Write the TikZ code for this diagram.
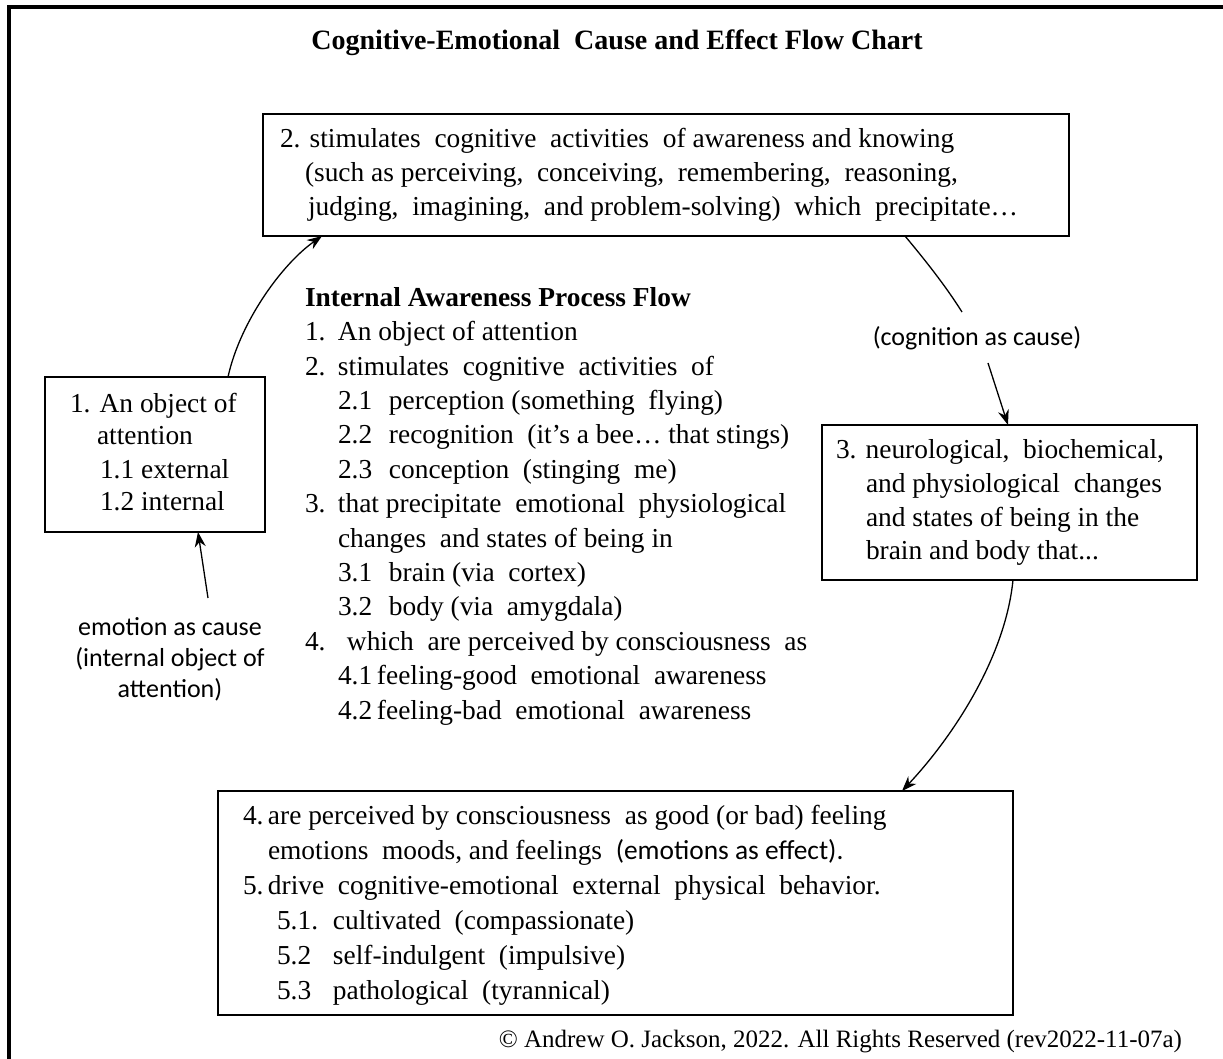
\documentclass[tikz,border=0pt]{standalone}
\usepackage{fontspec}
\setmainfont{Liberation Serif}
\newfontfamily\labelfont{Carlito}
\usetikzlibrary{arrows.meta,calc}
\begin{document}
\begin{tikzpicture}[x=0.5pt,y=-0.5pt,
  every node/.style={inner sep=0pt, outer sep=0pt},
  box/.style={draw, line width=0.9pt},
  body/.style={font=\fontsize{13.7}{17}\selectfont, align=left, anchor=base west},
  sans/.style={font=\labelfont\fontsize{13}{15.5}\selectfont, align=center},
  arr/.style={line width=0.65pt, -{Stealth[length=7.5pt,width=5.5pt]}},
  link/.style={line width=0.65pt},
  frame/.style={line width=2pt}]

\useasboundingbox (0,0) rectangle (1223,1059);

% outer frame (top and left edges)
\draw[frame] (8.7,1059) -- (8.7,6.7) -- (1223,6.7);

% title
\node[font=\bfseries\fontsize{14}{17}\selectfont, anchor=base] (title) at (617,50)
  {Cognitive-Emotional\ \ Cause and Effect Flow Chart};

% boxes
\node[box, minimum width=403pt, minimum height=61pt] (b2) at (666,175) {};
\node[box, minimum width=110pt, minimum height=77.5pt] (b1) at (155,454.5) {};
\node[box, minimum width=187.5pt, minimum height=77.5pt] (b3) at (1009.5,502.5) {};
\node[box, minimum width=397.5pt, minimum height=112pt] (b4) at (615.5,903) {};

% box texts (each node is placed at the baseline of its last line)
\node[body] (t2) at (280,216) {%
  2. stimulates\ \ cognitive\ \ activities\ \ of awareness\ and knowing\\
  \hspace*{12.5pt}(such\ as perceiving,\ \ conceiving,\ \ remembering,\ \ reasoning,\\
  \hspace*{14pt}judging,\ \ imagining,\ \ and problem-solving)\ \ which\ \ precipitate…};

\node[body, font=\fontsize{13.7}{16.5}\selectfont] (t1) at (70,511) {%
  1. An object of\\
  \hspace*{13.5pt}attention\\
  \hspace*{15pt}1.1 external\\
  \hspace*{15pt}1.2 internal};

\node[body] (t3) at (836,560) {%
  3. neurological,\ \ biochemical,\\
  \hspace*{15pt}and physiological\ \ changes\\
  \hspace*{15pt}and states\ of being\ in the\\
  \hspace*{15pt}brain\ and body that...};

\node[body, font=\fontsize{13.7}{17.5}\selectfont] (t4) at (243,999) {%
  \makebox[12.5pt][l]{4.}are perceived\ by consciousness\ \ as good (or bad) feeling\\
  \hspace*{12.5pt}emotions\ \ moods, and feelings\ \ {\labelfont (emotions as effect).}\\
  \makebox[12.5pt][l]{5.}drive\ \ cognitive-emotional\ \ external\ \ physical\ \ behavior.\\
  \hspace*{17pt}\makebox[28pt][l]{5.1.}cultivated\ \ (compassionate)\\
  \hspace*{17pt}\makebox[28pt][l]{5.2}self-indulgent\ \ (impulsive)\\
  \hspace*{17pt}\makebox[28pt][l]{5.3}pathological\ \ (tyrannical)};

% central list
\node[body, font=\fontsize{13.7}{17.2}\selectfont] (flow) at (305,719) {%
  \textbf{Internal Awareness Process Flow}\\
  \makebox[16.5pt][l]{1.}An object of attention\\
  \makebox[16.5pt][l]{2.}stimulates\ \ cognitive\ \ activities\ \ of\\
  \hspace*{16.5pt}\makebox[25.5pt][l]{2.1}perception (something\ \ flying)\\
  \hspace*{16.5pt}\makebox[25.5pt][l]{2.2}recognition\ \ (it’s\ a bee… that stings)\\
  \hspace*{16.5pt}\makebox[25.5pt][l]{2.3}conception\ \ (stinging\ \ me)\\
  \makebox[16.5pt][l]{3.}that precipitate\ \ emotional\ \ physiological\\
  \hspace*{16.5pt}changes\ \ and states of being\ in\\
  \hspace*{16.5pt}\makebox[25.5pt][l]{3.1}brain (via\ \ cortex)\\
  \hspace*{16.5pt}\makebox[25.5pt][l]{3.2}body (via\ \ amygdala)\\
  \makebox[21pt][l]{4.}which\ \ are perceived\ by consciousness\ \ as\\
  \hspace*{16.5pt}\makebox[19.5pt][l]{4.1}feeling-good\ \ emotional\ \ awareness\\
  \hspace*{16.5pt}\makebox[19.5pt][l]{4.2}feeling-bad\ \ emotional\ \ awareness};

% side labels
\node[sans] (emo) at (170,659) {emotion as cause\\(internal object of\\attention)};
\node[sans] (cog) at (977,338) {(cognition as cause)};

% free ends of the connectors
\coordinate (emotail) at (208,598);
\coordinate (cogtop) at (962,312);
\coordinate (cogtail) at (988,363);

% connectors
\draw[arr] (emotail) -- ($(b1.south)+(43,0)$);
\draw[arr] ($(b1.north)+(73,0)$) .. controls (240,322) and (282,264) .. ($(b2.south west)+(59,0)$);
\draw[link] ($(b2.south east)+(-164,0)$) .. controls (925,260) and (945,285) .. (cogtop);
\draw[arr] (cogtail) -- ($(b3.north west)+(186,0)$);
\draw[arr] ($(b3.south west)+(191,0)$) .. controls (1005,660) and (950,740) .. ($(b4.north east)+(-111,0)$);

% copyright line
\node[font=\fontsize{12.5}{17}\selectfont, anchor=base east] (copy) at (1182,1047)
  {© Andrew O. Jackson, 2022. All Rights Reserved (rev2022-11-07a)};

\end{tikzpicture}
\end{document}
